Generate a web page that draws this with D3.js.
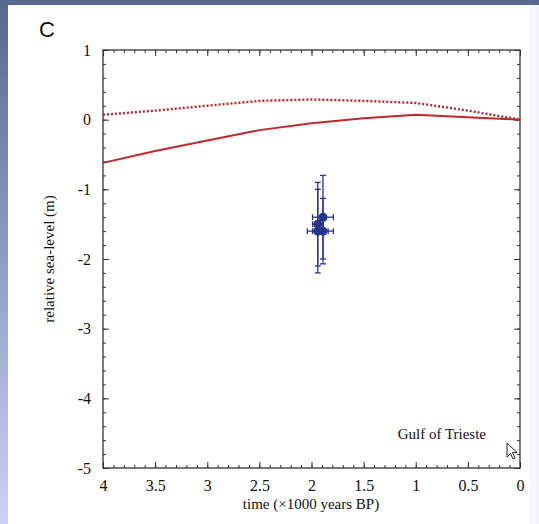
<html>
<script src='https://d3js.org/d3.v7.min.js'></script>
<style>
body {margin:0; overflow:hidden;}
text {font-family: 'Liberation Serif', 'Times New Roman', serif; fill:#111;}
.domain {display:none;}
</style>
<body onload='init()'>
<svg width=539 height=524></svg>
<script>
// model curves (kyr BP -> relative sea level, m)
var years = [4, 3.5, 3, 2.5, 2, 1.5, 1, 0.5, 0];
var modelSolid = [-0.62, -0.45, -0.30, -0.15, -0.05, 0.02, 0.07, 0.035, 0];
var modelDotted = [0.07, 0.13, 0.20, 0.27, 0.29, 0.27, 0.24, 0.13, 0];
// observations
var obsTime = [1.89, 1.94, 1.94, 1.89];
var obsLevel = [-1.40, -1.50, -1.60, -1.60];
var obsLevelErr = [0.60, 0.60, 0.60, 0.47];
var obsTimeErr = [0.10, 0.05, 0.10, 0.10];
var xTicks = [4, 3.5, 3, 2.5, 2, 1.5, 1, 0.5, 0];
var yTicks = [1, 0, -1, -2, -3, -4, -5];

function init() {
    var svg = d3.select("svg");
    var left = 103, right = 520, top = 50, bottom = 468;

    var grad = svg.append("defs").append("linearGradient").attr("id","bg")
        .attr("x1",0).attr("y1",0).attr("x2",0).attr("y2",1);
    grad.append("stop").attr("offset","0").attr("stop-color","#56688f");
    grad.append("stop").attr("offset","1").attr("stop-color","#cbd3f6");
    svg.append("rect").attr("width",539).attr("height",524).attr("fill","url(#bg)");
    svg.append("rect").attr("x",8).attr("y",5).attr("width",531).attr("height",519).attr("fill","#fff");
    svg.append("rect").attr("x",530).attr("y",5).attr("width",9).attr("height",519).attr("fill","#f5f5f7");

    var x = d3.scaleLinear().domain([4,0]).range([left,right]);
    var y = d3.scaleLinear().domain([-5,1]).range([bottom,top]);

    var xMinor = d3.range(0, 4.001, 0.1);
    var yMinor = d3.range(-5, 1.001, 0.2);

    // minor ticks, all four sides, pointing inward
    svg.append("g").attr("transform","translate(0,"+bottom+")")
        .call(d3.axisBottom(x).tickValues(xMinor).tickSize(-3).tickFormat(""));
    svg.append("g").attr("transform","translate(0,"+top+")")
        .call(d3.axisTop(x).tickValues(xMinor).tickSize(-3).tickFormat(""));
    svg.append("g").attr("transform","translate("+left+",0)")
        .call(d3.axisLeft(y).tickValues(yMinor).tickSize(-3).tickFormat(""));
    svg.append("g").attr("transform","translate("+right+",0)")
        .call(d3.axisRight(y).tickValues(yMinor).tickSize(-3).tickFormat(""));

    // major ticks
    var xa = svg.append("g").attr("transform","translate(0,"+bottom+")")
        .call(d3.axisBottom(x).tickValues(xTicks).tickSize(-6).tickPadding(12).tickFormat(d3.format("")));
    svg.append("g").attr("transform","translate(0,"+top+")")
        .call(d3.axisTop(x).tickValues(xTicks).tickSize(-6).tickFormat(""));
    var ya = svg.append("g").attr("transform","translate("+left+",0)")
        .call(d3.axisLeft(y).tickValues(yTicks).tickSize(-6).tickPadding(12).tickFormat(function(d){return d < 0 ? "-" + (-d) : d;}));
    svg.append("g").attr("transform","translate("+right+",0)")
        .call(d3.axisRight(y).tickValues(yTicks).tickSize(-6).tickFormat(""));
    svg.selectAll(".tick line").attr("stroke","#333");
    xa.selectAll("text").attr("font-size",16);
    ya.selectAll("text").attr("font-size",16);

    svg.append("rect").attr("x",left).attr("y",top).attr("width",right-left).attr("height",bottom-top)
        .attr("fill","none").attr("stroke","#333").attr("stroke-width",1.3);

    var line = d3.line().x(function(d){return x(d[0]);}).y(function(d){return y(d[1]);});
    svg.append("path").datum(d3.zip(years, modelDotted)).attr("d",line)
        .attr("fill","none").attr("stroke","#b8262c").attr("stroke-width",2.4).attr("stroke-dasharray","2,2");
    svg.append("path").datum(d3.zip(years, modelSolid)).attr("d",line)
        .attr("fill","none").attr("stroke","#c0282c").attr("stroke-width",2);

    // observations with error bars
    var blue = "#29348f";
    var obs = d3.range(obsTime.length).map(function(i){
        return {t:obsTime[i], v:obsLevel[i], ve:obsLevelErr[i], te:obsTimeErr[i]};
    });
    var g = svg.append("g").attr("stroke",blue).attr("stroke-width",1.3);
    obs.forEach(function(d){
        g.append("line").attr("x1",x(d.t)).attr("x2",x(d.t)).attr("y1",y(d.v+d.ve)).attr("y2",y(d.v-d.ve));
        g.append("line").attr("x1",x(d.t)-3).attr("x2",x(d.t)+3).attr("y1",y(d.v+d.ve)).attr("y2",y(d.v+d.ve));
        g.append("line").attr("x1",x(d.t)-3).attr("x2",x(d.t)+3).attr("y1",y(d.v-d.ve)).attr("y2",y(d.v-d.ve));
        g.append("line").attr("x1",x(d.t+d.te)).attr("x2",x(d.t-d.te)).attr("y1",y(d.v)).attr("y2",y(d.v));
        g.append("line").attr("x1",x(d.t+d.te)).attr("x2",x(d.t+d.te)).attr("y1",y(d.v)-3).attr("y2",y(d.v)+3);
        g.append("line").attr("x1",x(d.t-d.te)).attr("x2",x(d.t-d.te)).attr("y1",y(d.v)-3).attr("y2",y(d.v)+3);
    });
    svg.selectAll(".obs").data(obs).enter().append("circle").attr("class","obs")
        .attr("cx",function(d){return x(d.t);}).attr("cy",function(d){return y(d.v);})
        .attr("r",4.5).attr("fill",blue);

    // labels
    svg.append("text").attr("x",311).attr("y",509).attr("text-anchor","middle").attr("font-size",15)
        .text("time (\u00d71000 years BP)");
    svg.append("text").attr("transform","translate(54,259) rotate(-90)").attr("text-anchor","middle").attr("font-size",15)
        .text("relative sea-level (m)");
    svg.append("text").attr("x",486).attr("y",439).attr("text-anchor","end").attr("font-size",15)
        .text("Gulf of Trieste");
    svg.append("text").attr("x",39).attr("y",37).attr("font-size",22)
        .style("font-family","'Liberation Sans', Arial, sans-serif").text("C");

    // mouse pointer from the screenshot
    svg.append("path").attr("transform","translate(507,443)")
        .attr("d","M0,0 L0,14 L3.5,10.5 L6,16 L8,15 L5.5,9.5 L10,9.5 Z")
        .attr("fill","#fff").attr("stroke","#222").attr("stroke-width",1);
}
</script>
</body>
</html>
